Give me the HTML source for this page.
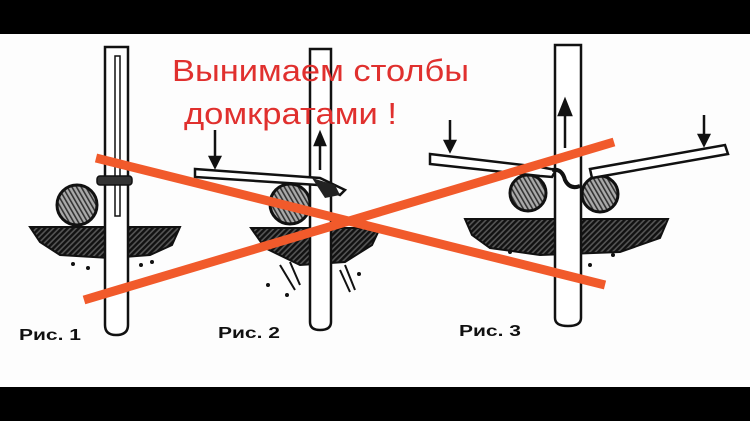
<!DOCTYPE html>
<html><head><meta charset="utf-8"><style>
html,body{margin:0;padding:0;background:#000;}
svg{display:block;}
</style></head><body>
<svg width="750" height="421" viewBox="0 0 750 421" xmlns="http://www.w3.org/2000/svg">
<defs>
<pattern id="h" width="4" height="4" patternUnits="userSpaceOnUse" patternTransform="rotate(45)">
<rect width="4" height="4" fill="#555"/><rect width="2.4" height="4" fill="#111"/></pattern>
<pattern id="c" width="4" height="4" patternUnits="userSpaceOnUse" patternTransform="rotate(-30)">
<rect width="4" height="4" fill="#aaa"/><rect width="1.6" height="4" fill="#333"/></pattern>
</defs>
<rect x="0" y="0" width="750" height="421" fill="#000"/>
<rect x="0" y="34" width="750" height="353" fill="#fdfdfd"/>

<!-- grounds -->
<g stroke="#111" stroke-width="2">
<path d="M30 227 L180 227 L172 245 L150 255 L110 258 L60 255 L40 242 Z" fill="url(#h)"/>
<path d="M251 228 L380 228 L372 245 L345 262 L300 265 L265 248 Z" fill="url(#h)"/>
<path d="M465 219 L668 219 L660 238 L620 252 L540 255 L490 248 L472 235 Z" fill="url(#h)"/>
</g>
<!-- circles -->
<g stroke="#111" stroke-width="3" fill="url(#c)">
<circle cx="77" cy="205" r="20"/>
<circle cx="290" cy="204" r="20"/>
<circle cx="528" cy="193" r="18"/>
<circle cx="600" cy="194" r="18"/>
</g>
<!-- posts -->
<g stroke="#111" stroke-width="2.5" fill="#fff">
<path d="M105 47 L128 47 L128 325 Q128 335 116 335 Q105 335 105 325 Z"/>
<path d="M310 49 L331 49 L331 322 Q331 330 320 330 Q310 330 310 322 Z"/>
<path d="M555 45 L581 45 L581 318 Q581 326 568 326 Q555 326 555 318 Z"/>
</g>
<rect x="115" y="56" width="5" height="160" fill="none" stroke="#111" stroke-width="1.5"/>
<rect x="97" y="176" width="35" height="9" rx="3" fill="#333" stroke="#111" stroke-width="1.5"/>
<!-- levers -->
<g stroke="#111" stroke-width="2.5" fill="#fff">
<path d="M195 169 L320 178 L345 190 L340 195 L318 185 L195 177 Z"/>
<path d="M430 154 L540 167 L556 170 L552 177 L540 176 L430 164 Z"/>
<path d="M590 169 L725 145 L728 154 L592 178 Z"/>
</g>
<path d="M312 178 L335 185 L340 195 L325 198 Z" fill="#222"/>
<path d="M552 170 Q562 168 565 180 Q570 190 580 186" fill="none" stroke="#111" stroke-width="4"/>
<!-- arrows -->
<g stroke="#111" stroke-width="2.5" fill="#111">
<line x1="215" y1="130" x2="215" y2="160"/><path d="M210 157 L220 157 L215 167 Z"/>
<line x1="320" y1="170" x2="320" y2="142"/><path d="M315 145 L325 145 L320 133 Z"/>
<line x1="450" y1="120" x2="450" y2="143"/><path d="M445 141 L455 141 L450 151 Z"/>
<line x1="704" y1="115" x2="704" y2="137"/><path d="M699 135 L709 135 L704 145 Z"/>
<line x1="565" y1="148" x2="565" y2="112"/><path d="M559 115 L571 115 L565 100 Z"/>
</g>
<!-- dots -->
<g fill="#111"><circle cx="73" cy="264" r="2"/><circle cx="88" cy="268" r="2"/><circle cx="141" cy="265" r="2"/><circle cx="152" cy="262" r="2"/><circle cx="268" cy="285" r="2"/><circle cx="287" cy="295" r="2"/><circle cx="359" cy="274" r="2"/><circle cx="510" cy="252" r="2"/><circle cx="590" cy="265" r="2"/><circle cx="613" cy="255" r="2"/>
<path d="M280 265 L295 290 M290 262 L300 285 M345 265 L355 290 M340 270 L350 292" stroke="#111" stroke-width="2"/></g>
<!-- labels -->
<text x="19" y="340" font-family="Liberation Sans, sans-serif" font-weight="700" font-size="16" fill="#111" textLength="62" lengthAdjust="spacingAndGlyphs">Рис. 1</text>
<text x="218" y="338" font-family="Liberation Sans, sans-serif" font-weight="700" font-size="16" fill="#111" textLength="62" lengthAdjust="spacingAndGlyphs">Рис. 2</text>
<text x="459" y="336" font-family="Liberation Sans, sans-serif" font-weight="700" font-size="16" fill="#111" textLength="62" lengthAdjust="spacingAndGlyphs">Рис. 3</text>
<!-- red cross -->
<g stroke="#f15a2b" stroke-width="9">
<line x1="96" y1="158" x2="605" y2="285"/>
<line x1="84" y1="300" x2="614" y2="142"/>
</g>
<text x="172" y="81" font-family="Liberation Sans, sans-serif" font-size="31" fill="#e0302e" textLength="297" lengthAdjust="spacingAndGlyphs">Вынимаем столбы</text>
<text x="184" y="124" font-family="Liberation Sans, sans-serif" font-size="31" fill="#e0302e" textLength="213" lengthAdjust="spacingAndGlyphs">домкратами !</text>
</svg>
</body></html>
